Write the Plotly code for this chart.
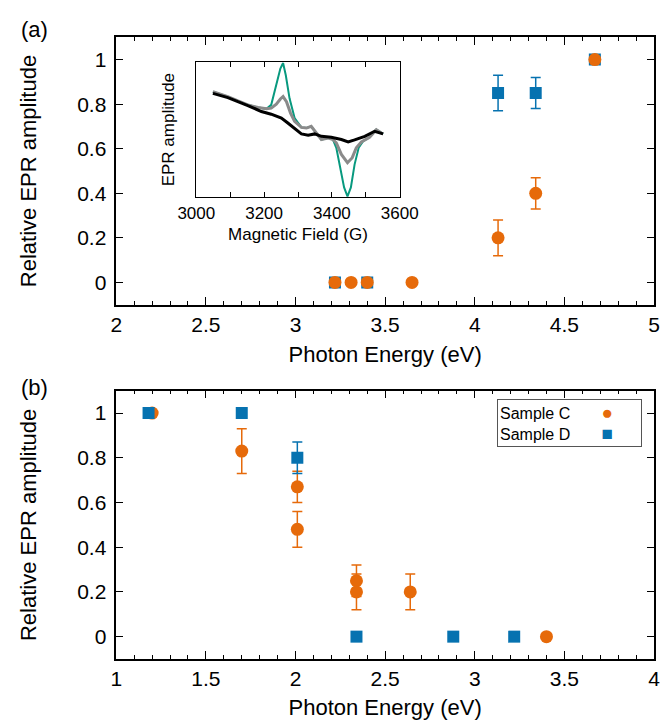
import plotly.graph_objects as go

W, H = 668, 721

# ---------------- data ----------------
# Panel (a)
a_c_x = [3.22, 3.31, 3.40, 3.65, 4.13, 4.34, 4.67]
a_c_y = [0, 0, 0, 0, 0.20, 0.40, 1.00]
a_c_err = [0, 0, 0, 0, 0.08, 0.07, 0]
a_d_x = [3.22, 3.40, 4.13, 4.34, 4.67]
a_d_y = [0, 0, 0.85, 0.85, 1.00]
a_d_err = [0, 0, 0.08, 0.07, 0]

# Panel (b)
b_c_x = [1.20, 1.70, 2.01, 2.01, 2.34, 2.34, 2.64, 3.40]
b_c_y = [1.00, 0.83, 0.67, 0.48, 0.25, 0.20, 0.20, 0]
b_c_err = [0, 0.10, 0.07, 0.08, 0.07, 0.08, 0.08, 0]
b_d_x = [1.18, 1.70, 2.01, 2.34, 2.88, 3.22]
b_d_y = [1.00, 1.00, 0.80, 0, 0, 0]
b_d_err = [0, 0, 0.07, 0, 0, 0]

# Inset EPR spectra (arbitrary units)
teal_field = [3049, 3093, 3123, 3152, 3182, 3207, 3221, 3236, 3248, 3256, 3264, 3275,
              3290, 3310, 3325, 3339, 3354, 3369, 3388, 3403, 3413, 3423, 3436, 3446,
              3456, 3467, 3479, 3492, 3511, 3531, 3546, 3551]
teal_amp = [0.785, 0.748, 0.715, 0.686, 0.666, 0.656, 0.686, 0.834, 0.958, 1.0, 0.908, 0.735,
            0.587, 0.517, 0.512, 0.525, 0.475, 0.426, 0.438, 0.426, 0.364, 0.240, 0.067, 0.0,
            0.067, 0.240, 0.364, 0.413, 0.443, 0.500, 0.475, 0.468]
gray_field = [3049, 3093, 3123, 3152, 3182, 3207, 3221, 3236, 3248, 3256, 3266, 3278,
              3290, 3310, 3325, 3339, 3354, 3369, 3388, 3403, 3413, 3428, 3446, 3460,
              3472, 3487, 3511, 3531, 3546, 3551]
gray_amp = [0.785, 0.748, 0.715, 0.686, 0.666, 0.656, 0.661, 0.691, 0.730, 0.748, 0.710, 0.624,
            0.562, 0.517, 0.512, 0.525, 0.475, 0.426, 0.438, 0.426, 0.401, 0.314, 0.252, 0.290,
            0.364, 0.408, 0.443, 0.500, 0.475, 0.468]
black_field = [3049, 3093, 3152, 3192, 3221, 3251, 3270, 3290, 3310, 3330, 3349, 3369,
               3398, 3428, 3448, 3467, 3497, 3526, 3551]
black_amp = [0.772, 0.740, 0.681, 0.636, 0.616, 0.587, 0.550, 0.507, 0.468, 0.458, 0.468, 0.450,
             0.443, 0.426, 0.408, 0.423, 0.450, 0.488, 0.468]

ORANGE = "#e66a0a"
BLUE = "#0672b0"
TEAL = "#08997f"
GRAY = "#8a8a8a"
FONT = "Liberation Sans"


def px_x(p):
    return p / W


def px_y(p):
    return 1 - p / H


fig = go.Figure()


def err(arr, color):
    return dict(type="data", array=arr, visible=True, color=color, thickness=1.5, width=5)


# Panel (a): blue under orange
fig.add_trace(go.Scatter(x=a_d_x, y=a_d_y, mode="markers", name="Sample D",
                         marker=dict(symbol="square", size=12, color=BLUE),
                         error_y=err(a_d_err, BLUE), xaxis="x", yaxis="y", showlegend=False))
fig.add_trace(go.Scatter(x=a_c_x, y=a_c_y, mode="markers", name="Sample C",
                         marker=dict(symbol="circle", size=13, color=ORANGE),
                         error_y=err(a_c_err, ORANGE), xaxis="x", yaxis="y", showlegend=False))
# Panel (b): orange under blue
fig.add_trace(go.Scatter(x=b_c_x, y=b_c_y, mode="markers", name="Sample C",
                         marker=dict(symbol="circle", size=13, color=ORANGE),
                         error_y=err(b_c_err, ORANGE), xaxis="x2", yaxis="y2", showlegend=False))
fig.add_trace(go.Scatter(x=b_d_x, y=b_d_y, mode="markers", name="Sample D",
                         marker=dict(symbol="square", size=12, color=BLUE),
                         error_y=err(b_d_err, BLUE), xaxis="x2", yaxis="y2", showlegend=False))
# Inset
fig.add_trace(go.Scatter(x=teal_field, y=teal_amp, mode="lines", line=dict(color=TEAL, width=2),
                         xaxis="x3", yaxis="y3", showlegend=False))
fig.add_trace(go.Scatter(x=gray_field, y=gray_amp, mode="lines", line=dict(color=GRAY, width=3),
                         xaxis="x3", yaxis="y3", showlegend=False))
fig.add_trace(go.Scatter(x=black_field, y=black_amp, mode="lines", line=dict(color="black", width=3),
                         xaxis="x3", yaxis="y3", showlegend=False))

xdom = [px_x(108.3), px_x(646)]
common_x = dict(showline=True, linecolor="black", linewidth=1.5, mirror="ticks",
                ticks="inside", ticklen=8, tickwidth=1.2, tickcolor="black",
                showgrid=False, zeroline=False, dtick=0.5, automargin=False,
                minor=dict(ticks="inside", ticklen=4, dtick=0.1, tickwidth=1, tickcolor="black"),
                tickfont=dict(size=21, family=FONT, color="black"))
common_y = dict(showline=True, linecolor="black", linewidth=1.5, mirror="ticks",
                ticks="inside", ticklen=7, tickwidth=1.2, tickcolor="black",
                showgrid=False, zeroline=False, range=[-0.1, 1.1], tick0=0, dtick=0.2,
                automargin=False,
                tickfont=dict(size=21, family=FONT, color="black"), ticklabelstandoff=4)

fig.update_layout(
    width=W, height=H, margin=dict(l=0, r=0, t=0, b=0),
    paper_bgcolor="white", plot_bgcolor="white",
    font=dict(family=FONT, size=20, color="black"),
    xaxis=dict(common_x, domain=xdom, range=[2, 5], anchor="y",
               title=dict(text="Photon Energy (eV)", standoff=12, font=dict(size=22))),
    yaxis=dict(common_y, domain=[px_y(296.7), px_y(29.3)], anchor="x",
               title=dict(text="Relative EPR amplitude", standoff=34, font=dict(size=22))),
    xaxis2=dict(common_x, domain=xdom, range=[1, 4], anchor="y2",
                title=dict(text="Photon Energy (eV)", standoff=11, font=dict(size=22))),
    yaxis2=dict(common_y, domain=[px_y(651), px_y(382.7)], anchor="x2",
                title=dict(text="Relative EPR amplitude", standoff=34, font=dict(size=22))),
    xaxis3=dict(domain=[px_x(188.3), px_x(391.7)], range=[3000, 3600], anchor="y3",
                showline=True, linecolor="black", linewidth=1.2, mirror="ticks",
                ticks="inside", ticklen=5, tickwidth=1, tickcolor="black", dtick=200,
                minor=dict(ticks="inside", ticklen=5, dtick=100, tickwidth=1, tickcolor="black"),
                showgrid=False, zeroline=False, automargin=False,
                tickfont=dict(size=17, family=FONT, color="black"),
                title=dict(text="Magnetic Field (G)", standoff=6, font=dict(size=17))),
    yaxis3=dict(domain=[px_y(189), px_y(54.3)], range=[-0.005, 1.005], anchor="x3",
                showline=True, linecolor="black", linewidth=1.2, mirror=True,
                ticks="", showticklabels=False, showgrid=False, zeroline=False,
                automargin=False,
                title=dict(text="EPR amplitude", standoff=16, font=dict(size=17))),
)

# Panel labels
fig.add_annotation(text="(a)", x=px_x(11), y=px_y(22), xref="paper", yref="paper",
                   xanchor="left", yanchor="middle", showarrow=False, font=dict(size=22))
fig.add_annotation(text="(b)", x=px_x(11), y=px_y(379), xref="paper", yref="paper",
                   xanchor="left", yanchor="middle", showarrow=False, font=dict(size=22))

# Legend box (panel b)
sp = "\u00a0" * 7
legend_text = ("Sample C" + sp + f"<span style='color:{ORANGE};font-size:19px'>●</span><br>"
               "Sample D" + sp + f"<span style='color:{BLUE};font-size:19px'>■</span>")
fig.add_annotation(text=legend_text, x=px_x(489), y=px_y(390.7), xref="paper", yref="paper",
                   xanchor="left", yanchor="top", showarrow=False, align="left",
                   width=139, borderpad=2, bordercolor="#555555", borderwidth=1,
                   bgcolor="white", font=dict(size=16))

fig.write_html("out.html")
